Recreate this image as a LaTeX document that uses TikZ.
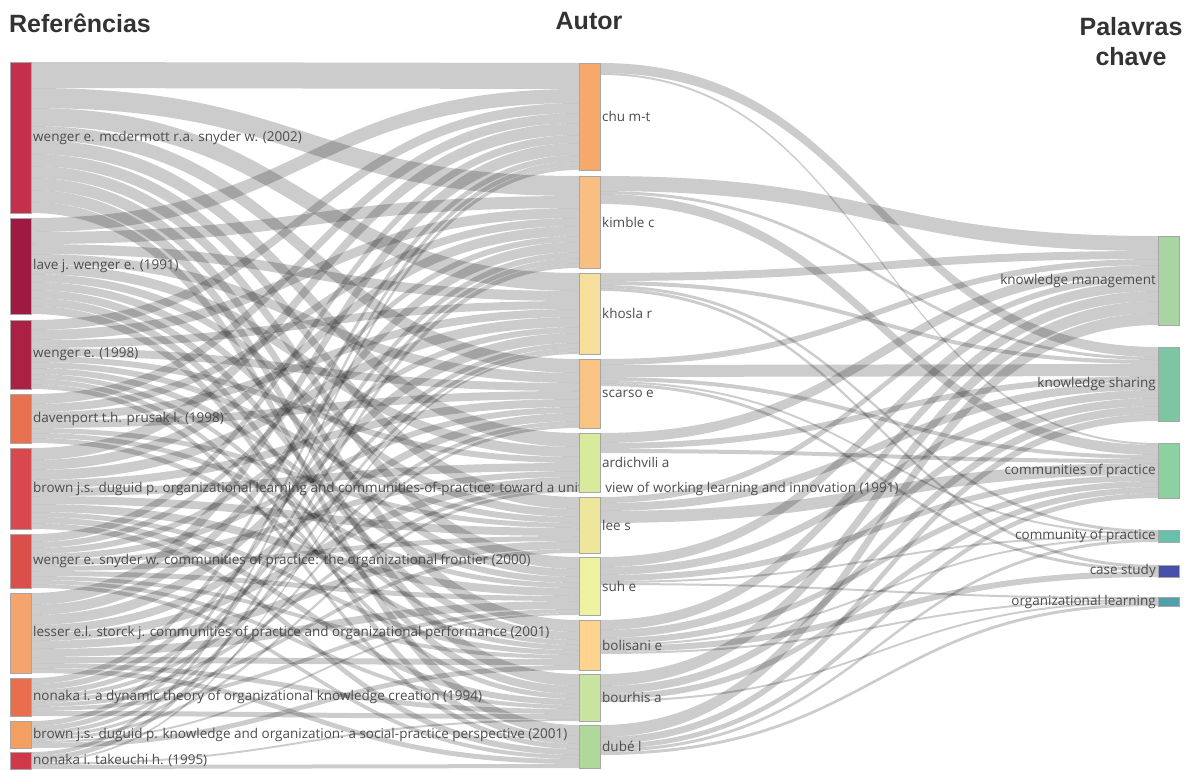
\documentclass[tikz,border=0pt]{standalone}
\usepackage{fontspec}
\setmainfont{Open Sans}
\newfontfamily\headfont{Liberation Sans}
\usetikzlibrary{calc}
\pgfdeclarelayer{bands}
\pgfsetlayers{bands,main}

% node colours
\definecolor{cR1}{HTML}{C4304C}
\definecolor{cR2}{HTML}{9E1A42}
\definecolor{cR3}{HTML}{AA2143}
\definecolor{cR4}{HTML}{E8714F}
\definecolor{cR5}{HTML}{D9484C}
\definecolor{cR6}{HTML}{DB4F4A}
\definecolor{cR7}{HTML}{F6A46E}
\definecolor{cR8}{HTML}{EA6E4E}
\definecolor{cR9}{HTML}{F49F62}
\definecolor{cR10}{HTML}{D0394A}
\definecolor{cA1}{HTML}{F7A96B}
\definecolor{cA2}{HTML}{F9BE81}
\definecolor{cA3}{HTML}{F6DE9C}
\definecolor{cA4}{HTML}{F9C383}
\definecolor{cA5}{HTML}{D9EA9C}
\definecolor{cA6}{HTML}{EEE69B}
\definecolor{cA7}{HTML}{EDF1A0}
\definecolor{cA8}{HTML}{FDD38D}
\definecolor{cA9}{HTML}{C9E3A0}
\definecolor{cA10}{HTML}{AFD89A}
\definecolor{cK1}{HTML}{A8D5A2}
\definecolor{cK2}{HTML}{7DC6A3}
\definecolor{cK3}{HTML}{8DD1A0}
\definecolor{cK4}{HTML}{68BFAA}
\definecolor{cK5}{HTML}{4750A8}
\definecolor{cK6}{HTML}{4FA0AA}

\tikzset{
  colbar/.style={draw=black!35, line width=0.5pt, minimum width=21pt,
    inner sep=0pt, outer sep=0pt, anchor=north west},
  band/.style={fill=black, fill opacity=0.2},
  lbl/.style={font=\fontsize{13.5}{15}\selectfont, text=black!70, inner sep=2pt},
  head/.style={font=\headfont\bfseries\fontsize{25}{28}\selectfont, text=black!80, anchor=base},
}

% one Sankey band from the right side of node #1 to the left side of node #2,
% #3 thick; bands are stacked downwards at both ends
\newcommand\flow[3]{%
  \edef\fsrc{\csname out@#1\endcsname}%
  \edef\ftgt{\csname in@#2\endcsname}%
  \path (#1.north east) ++(0,\fsrc) coordinate (fa) ++(0,#3) coordinate (fb);
  \path (#2.north west) ++(0,\ftgt) coordinate (ta) ++(0,#3) coordinate (tb);
  \path ($(fa)!0.5!(ta)$) coordinate (fm);
  \fill[band] (fa) .. controls (fm |- fa) and (fm |- ta) .. (ta) -- (tb)
    .. controls (fm |- tb) and (fm |- fb) .. (fb) -- cycle;
  \pgfmathsetmacro\fnew{\fsrc+#3}\expandafter\xdef\csname out@#1\endcsname{\fnew}%
  \pgfmathsetmacro\fnew{\ftgt+#3}\expandafter\xdef\csname in@#2\endcsname{\fnew}%
}

\begin{document}
\begin{tikzpicture}[x=1pt, y=-1pt]
\useasboundingbox (0,0) rectangle (1191,769);

% column headings
\node[head] (h1) at (80,32) {Referências};
\node[head] (h2) at (589,29) {Autor};
\node[head] (h3) at (1131,35) {Palavras};
\node[head] (h4) at (1131,65) {chave};

% references
\node[colbar, fill=cR1,  minimum height=151pt] (r1)  at (10,62)  {};
\node[colbar, fill=cR2,  minimum height=96pt]  (r2)  at (10,218) {};
\node[colbar, fill=cR3,  minimum height=69pt]  (r3)  at (10,320) {};
\node[colbar, fill=cR4,  minimum height=49pt]  (r4)  at (10,394) {};
\node[colbar, fill=cR5,  minimum height=81pt]  (r5)  at (10,448) {};
\node[colbar, fill=cR6,  minimum height=54pt]  (r6)  at (10,534) {};
\node[colbar, fill=cR7,  minimum height=80pt]  (r7)  at (10,593) {};
\node[colbar, fill=cR8,  minimum height=38pt]  (r8)  at (10,678) {};
\node[colbar, fill=cR9,  minimum height=27pt]  (r9)  at (10,721) {};
\node[colbar, fill=cR10, minimum height=17pt]  (r10) at (10,752) {};

\node[lbl, anchor=west] (r1t)  at (r1.east)  {wenger e. mcdermott r.a. snyder w. (2002)};
\node[lbl, anchor=west] (r2t)  at (r2.east)  {lave j. wenger e. (1991)};
\node[lbl, anchor=west] (r3t)  at (r3.east)  {wenger e. (1998)};
\node[lbl, anchor=west] (r4t)  at (r4.east)  {davenport t.h. prusak l. (1998)};
\node[lbl, anchor=west] (r5t)  at (r5.east)  {brown j.s. duguid p. organizational learning and communities-of-practice: toward a unified view of working learning and innovation (1991)};
\node[lbl, anchor=west] (r6t)  at (r6.east)  {wenger e. snyder w. communities of practice: the organizational frontier (2000)};
\node[lbl, anchor=west] (r7t)  at (r7.east)  {lesser e.l. storck j. communities of practice and organizational performance (2001)};
\node[lbl, anchor=west] (r8t)  at (r8.east)  {nonaka i. a dynamic theory of organizational knowledge creation (1994)};
\node[lbl, anchor=west] (r9t)  at (r9.east)  {brown j.s. duguid p. knowledge and organization: a social-practice perspective (2001)};
\node[lbl, anchor=west] (r10t) at (r10.east) {nonaka i. takeuchi h. (1995)};

% authors
\node[colbar, fill=cA1,  minimum height=107pt] (a1)  at (579,63)  {};
\node[colbar, fill=cA2,  minimum height=92pt]  (a2)  at (579,176) {};
\node[colbar, fill=cA3,  minimum height=81pt]  (a3)  at (579,273) {};
\node[colbar, fill=cA4,  minimum height=69pt]  (a4)  at (579,359) {};
\node[colbar, fill=cA5,  minimum height=59pt]  (a5)  at (579,433) {};
\node[colbar, fill=cA6,  minimum height=56pt]  (a6)  at (579,497) {};
\node[colbar, fill=cA7,  minimum height=58pt]  (a7)  at (579,557) {};
\node[colbar, fill=cA8,  minimum height=50pt]  (a8)  at (579,620) {};
\node[colbar, fill=cA9,  minimum height=47pt]  (a9)  at (579,674) {};
\node[colbar, fill=cA10, minimum height=43pt]  (a10) at (579,725) {};

\node[lbl, anchor=west] (a1t)  at (a1.east)  {chu m-t};
\node[lbl, anchor=west] (a2t)  at (a2.east)  {kimble c};
\node[lbl, anchor=west] (a3t)  at (a3.east)  {khosla r};
\node[lbl, anchor=west] (a4t)  at (a4.east)  {scarso e};
\node[lbl, anchor=west] (a5t)  at (a5.east)  {ardichvili a};
\node[lbl, anchor=west] (a6t)  at (a6.east)  {lee s};
\node[lbl, anchor=west] (a7t)  at (a7.east)  {suh e};
\node[lbl, anchor=west] (a8t)  at (a8.east)  {bolisani e};
\node[lbl, anchor=west] (a9t)  at (a9.east)  {bourhis a};
\node[lbl, anchor=west] (a10t) at (a10.east) {dubé l};

% keywords
\node[colbar, fill=cK1, minimum height=89pt] (k1) at (1158,236) {};
\node[colbar, fill=cK2, minimum height=74pt] (k2) at (1158,347) {};
\node[colbar, fill=cK3, minimum height=55pt] (k3) at (1158,443) {};
\node[colbar, fill=cK4, minimum height=12pt] (k4) at (1158,530) {};
\node[colbar, fill=cK5, minimum height=12pt] (k5) at (1158,565) {};
\node[colbar, fill=cK6, minimum height=9pt]  (k6) at (1158,597) {};

\node[lbl, anchor=east] (k1t) at (k1.west) {knowledge management};
\node[lbl, anchor=east] (k2t) at (k2.west) {knowledge sharing};
\node[lbl, anchor=east] (k3t) at (k3.west) {communities of practice};
\node[lbl, anchor=east] (k4t) at (k4.west) {community of practice};
\node[lbl, anchor=east] (k5t) at (k5.west) {case study};
\node[lbl, anchor=east] (k6t) at (k6.west) {organizational learning};

% flows
\foreach \n in {r1,r2,r3,r4,r5,r6,r7,r8,r9,r10,a1,a2,a3,a4,a5,a6,a7,a8,a9,a10,k1,k2,k3,k4,k5,k6}{%
  \expandafter\xdef\csname out@\n\endcsname{0}%
  \expandafter\xdef\csname in@\n\endcsname{0}}
\begin{pgfonlayer}{bands}
\foreach \s/\t/\w in {
  r1/a1/26, r1/a2/20, r1/a3/18, r1/a4/14, r1/a5/14, r1/a6/12, r1/a7/12, r1/a8/12, r1/a9/12, r1/a10/11,
  r2/a1/14, r2/a2/12, r2/a3/10, r2/a4/10, r2/a5/10, r2/a6/8, r2/a7/8, r2/a8/8, r2/a9/8, r2/a10/8,
  r3/a1/10, r3/a2/10, r3/a3/8, r3/a4/8, r3/a5/6, r3/a6/6, r3/a7/6, r3/a8/5, r3/a9/5, r3/a10/5,
  r4/a1/10, r4/a2/8, r4/a3/8, r4/a4/8, r4/a6/5, r4/a7/5, r4/a8/5,
  r5/a1/12, r5/a2/10, r5/a3/10, r5/a4/8, r5/a5/8, r5/a6/8, r5/a7/8, r5/a8/5, r5/a9/6, r5/a10/6,
  r6/a1/8, r6/a2/6, r6/a3/6, r6/a4/6, r6/a5/6, r6/a6/5, r6/a7/5, r6/a8/4, r6/a9/4, r6/a10/4,
  r7/a1/12, r7/a2/10, r7/a3/10, r7/a4/8, r7/a5/8, r7/a6/8, r7/a7/8, r7/a8/6, r7/a9/5, r7/a10/5,
  r8/a1/6, r8/a2/6, r8/a3/5, r8/a4/4, r8/a5/4, r8/a6/4, r8/a7/4, r8/a9/5,
  r9/a1/5, r9/a2/5, r9/a3/4, r9/a4/3, r9/a5/3, r9/a7/2, r9/a8/5,
  r10/a1/4, r10/a2/5, r10/a3/2, r10/a9/2, r10/a10/4,
  a1/k2/10, a1/k3/2,
  a2/k1/15, a2/k2/3, a2/k3/10,
  a3/k1/8, a3/k2/4, a3/k4/3, a3/k5/3,
  a4/k1/6, a4/k2/12, a4/k3/4, a4/k4/2, a4/k5/3,
  a5/k1/10, a5/k2/6, a5/k3/4,
  a6/k1/6, a6/k2/8, a6/k3/12,
  a7/k1/10, a7/k2/8, a7/k3/6, a7/k4/2, a7/k6/2,
  a8/k1/10, a8/k2/8, a8/k3/6, a8/k4/2, a8/k5/6, a8/k6/2,
  a9/k1/12, a9/k2/8, a9/k3/6, a9/k6/2,
  a10/k1/12, a10/k2/7, a10/k3/5, a10/k4/3, a10/k6/3}
  {\flow{\s}{\t}{\w}}
\end{pgfonlayer}
\end{tikzpicture}
\end{document}
